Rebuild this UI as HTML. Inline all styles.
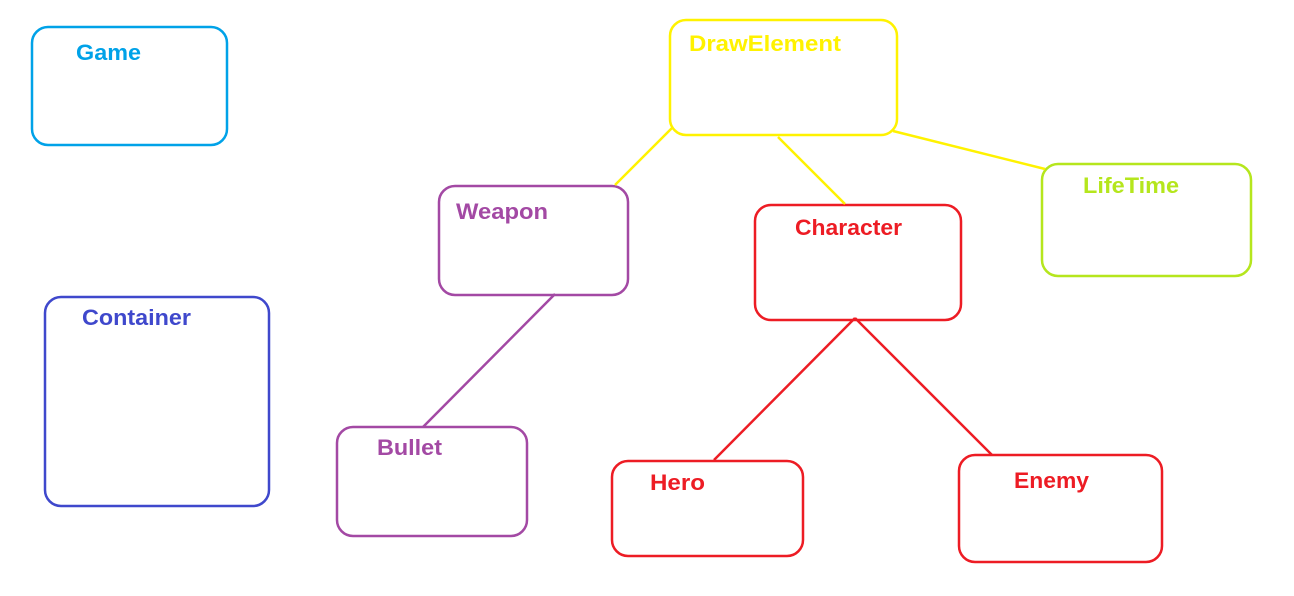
<!DOCTYPE html>
<html><head><meta charset="utf-8"><style>
html,body{margin:0;padding:0;background:#fff;width:1294px;height:596px;overflow:hidden}
text{font-family:"Liberation Sans",sans-serif;font-weight:bold;font-size:22px}
</style></head><body>
<svg width="1294" height="596" xmlns="http://www.w3.org/2000/svg">
<g fill="none" stroke-width="2.5">
<rect x="32" y="27" width="195" height="118" rx="16" stroke="#00a2e8"/>
<rect x="670" y="20" width="227" height="115" rx="16" stroke="#fff200"/>
<rect x="439" y="186" width="189" height="109" rx="16" stroke="#a349a4"/>
<rect x="755" y="205" width="206" height="115" rx="16" stroke="#ed1c24"/>
<rect x="1042" y="164" width="209" height="112" rx="16" stroke="#b5e61d"/>
<rect x="45" y="297" width="224" height="209" rx="16" stroke="#3f48cc"/>
<rect x="337" y="427" width="190" height="109" rx="16" stroke="#a349a4"/>
<rect x="612" y="461" width="191" height="95" rx="16" stroke="#ed1c24"/>
<rect x="959" y="455" width="203" height="107" rx="16" stroke="#ed1c24"/>
<line x1="615" y1="185" x2="673" y2="127" stroke="#fff200"/>
<line x1="778" y1="137" x2="845" y2="204" stroke="#fff200"/>
<line x1="893" y1="131" x2="1045" y2="169" stroke="#fff200"/>
<line x1="555" y1="294" x2="423" y2="427" stroke="#a349a4"/>
<line x1="855" y1="318" x2="714" y2="460" stroke="#ed1c24"/>
<line x1="855" y1="318" x2="992" y2="455" stroke="#ed1c24"/>
</g>
<text x="76" y="60" fill="#00a2e8" textLength="65" lengthAdjust="spacingAndGlyphs">Game</text>
<text x="689" y="51" fill="#fff200" textLength="152" lengthAdjust="spacingAndGlyphs">DrawElement</text>
<text x="456" y="219" fill="#a349a4" textLength="92" lengthAdjust="spacingAndGlyphs">Weapon</text>
<text x="795" y="235" fill="#ed1c24" textLength="107" lengthAdjust="spacingAndGlyphs">Character</text>
<text x="1083" y="193" fill="#b5e61d" textLength="96" lengthAdjust="spacingAndGlyphs">LifeTime</text>
<text x="82" y="325" fill="#3f48cc" textLength="109" lengthAdjust="spacingAndGlyphs">Container</text>
<text x="377" y="455" fill="#a349a4" textLength="65" lengthAdjust="spacingAndGlyphs">Bullet</text>
<text x="650" y="490" fill="#ed1c24" textLength="55" lengthAdjust="spacingAndGlyphs">Hero</text>
<text x="1014" y="488" fill="#ed1c24" textLength="75" lengthAdjust="spacingAndGlyphs">Enemy</text>
</svg>
</body></html>
